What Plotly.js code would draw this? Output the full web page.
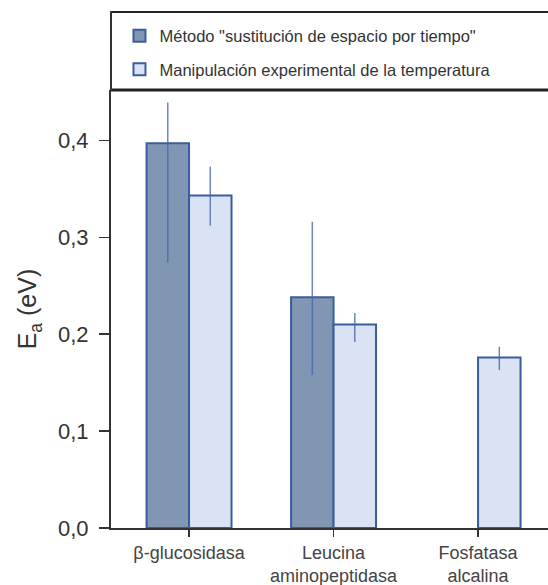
<!DOCTYPE html>
<html>
<head>
<meta charset="utf-8">
<script src="https://cdn.plot.ly/plotly-3.0.1.min.js"></script>
<style>html,body{margin:0;padding:0;background:#fff;}#chart{width:548px;height:585px;}</style>
</head>
<body>
<div id="chart"></div>
<script>
const categories = ["β-glucosidasa", "Leucina<br>aminopeptidasa", "Fosfatasa<br>alcalina"];
const seriesNames = ["Método \"sustitución de espacio por tiempo\"", "Manipulación experimental de la temperatura"];
const spaceForTime = [0.397, 0.238, null];
const spaceForTimeErrPlus = [0.042, 0.078, null];
const spaceForTimeErrMinus = [0.123, 0.080, null];
const experimental = [0.343, 0.210, 0.176];
const experimentalErrPlus = [0.030, 0.012, 0.011];
const experimentalErrMinus = [0.031, 0.018, 0.013];
const yTicks = [0, 0.1, 0.2, 0.3, 0.4];

const edge = "rgb(58,92,160)";
const errColor = "rgba(70,105,170,0.8)";
const traces = [
  {
    type: "bar", name: seriesNames[0], legendgroup: "a",
    x: categories, y: spaceForTime,
    marker: {color: "rgb(128,150,178)", line: {color: edge, width: 2}},
    error_y: {type: "data", symmetric: false, array: spaceForTimeErrPlus, arrayminus: spaceForTimeErrMinus, width: 0, thickness: 1.5, color: errColor}
  },
  {
    type: "bar", name: seriesNames[1], legendgroup: "b",
    x: categories, y: experimental,
    marker: {color: "rgb(218,227,243)", line: {color: edge, width: 2}},
    error_y: {type: "data", symmetric: false, array: experimentalErrPlus, arrayminus: experimentalErrMinus, width: 0, thickness: 1.5, color: errColor}
  }
];

const layout = {
  width: 548, height: 585,
  margin: {l: 111, r: 0, t: 90, b: 57},
  paper_bgcolor: "#fff", plot_bgcolor: "#fff",
  separators: ",.",
  font: {family: "Liberation Sans, Arial, sans-serif", color: "#333"},
  barmode: "group", bargap: 0.412, bargroupgap: 0,
  showlegend: true,
  legend: {
    x: 0.0194, y: 1.163, xanchor: "left", yanchor: "top",
    bgcolor: "rgba(0,0,0,0)", borderwidth: 0,
    font: {size: 16.5, color: "#333"},
    tracegroupgap: 9
  },
  xaxis: {
    type: "category", range: [-0.54, 2.484],
    showline: true, linecolor: "#333", linewidth: 2,
    ticks: "outside", ticklen: 7, tickcolor: "#333", tickwidth: 1.5,
    tickfont: {size: 18, color: "#444"},
    showgrid: false, zeroline: false, fixedrange: true
  },
  yaxis: {
    range: [0, 0.452],
    tickvals: yTicks, tickformat: ".1f",
    showline: true, linecolor: "#333", linewidth: 2,
    ticks: "outside", ticklen: 10, tickcolor: "#333", tickwidth: 1.5,
    ticklabelstandoff: 6,
    tickfont: {size: 22, color: "#333"},
    showgrid: false, zeroline: false,
    title: {text: "E<sub>a</sub> (eV)", font: {size: 25, color: "#333"}, standoff: 14}
  },
  shapes: [
    {type: "line", xref: "paper", yref: "paper", x0: 0, x1: 1.05, y0: 1.178, y1: 1.178, line: {color: "#222", width: 2}},
    {type: "line", xref: "paper", yref: "paper", x0: 0, x1: 1.05, y0: 1.0, y1: 1.0, line: {color: "#222", width: 3}},
    {type: "line", xref: "paper", yref: "paper", x0: 0, x1: 0, y0: 1.0, y1: 1.18, line: {color: "#333", width: 2}}
  ]
};

Plotly.newPlot("chart", traces, layout, {displayModeBar: false, staticPlot: true});
</script>
</body>
</html>
